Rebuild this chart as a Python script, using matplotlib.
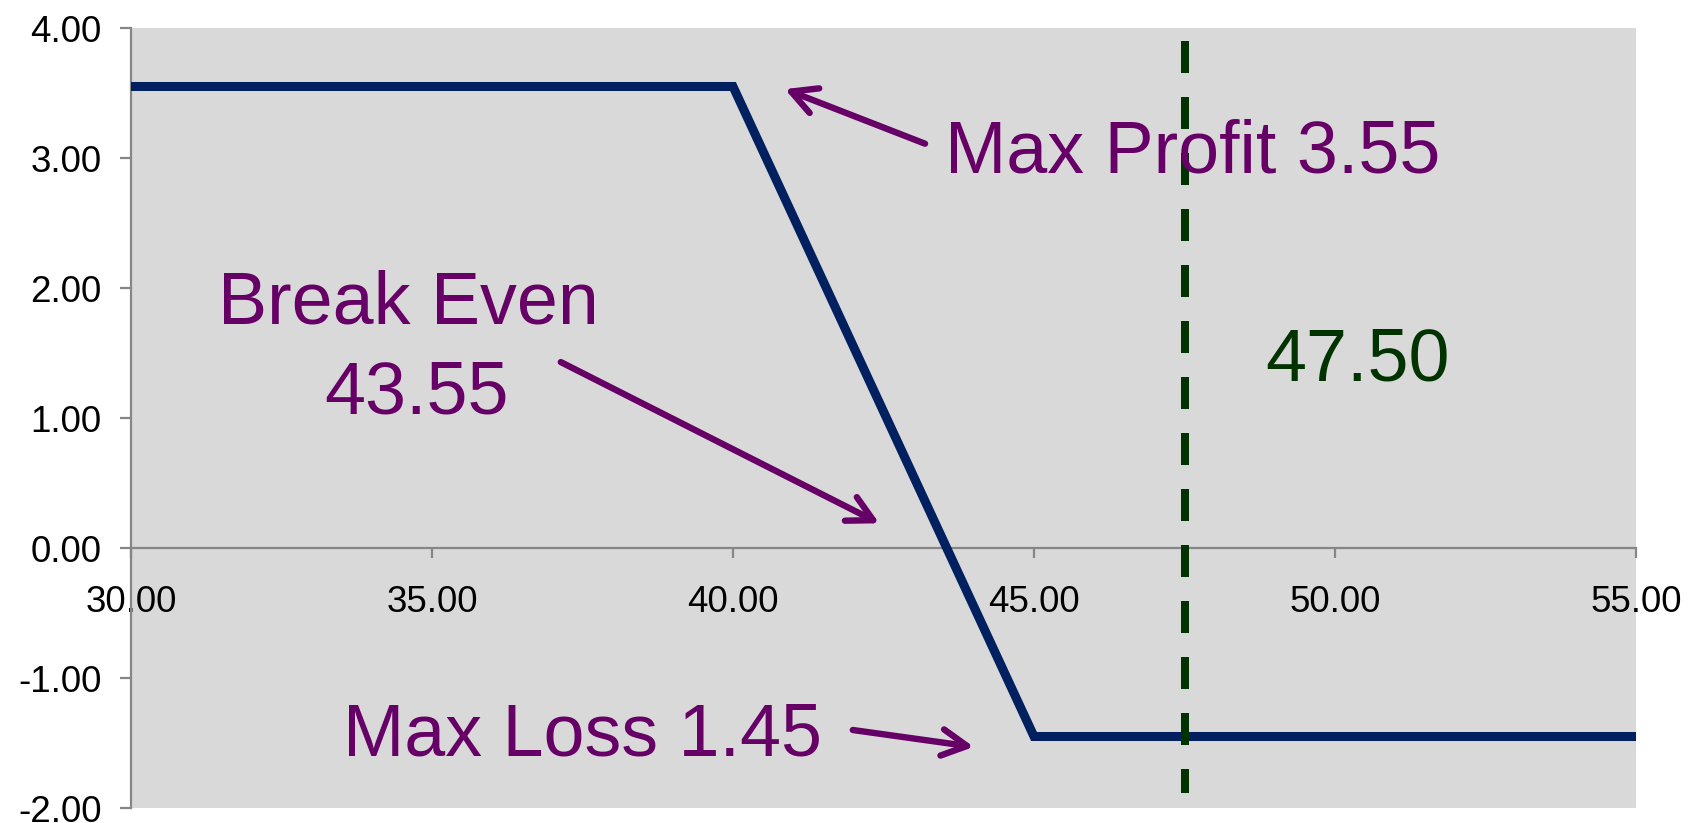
import matplotlib
matplotlib.use("Agg")
import matplotlib.pyplot as plt
from matplotlib.ticker import FormatStrFormatter

plt.rcParams['font.family'] = ['Liberation Sans', 'DejaVu Sans']

# Payoff of the spread at expiry
prices = [30.0, 40.0, 45.0, 55.0]
profit = [3.55, 3.55, -1.45, -1.45]

current_price = 47.50
dash_span = [3.9, -1.885]

max_profit = 3.55
max_loss = 1.45
break_even = 43.55

x_ticks = [30, 35, 40, 45, 50, 55]
y_ticks = [-2, -1, 0, 1, 2, 3, 4]

NAVY = '#002060'
PURPLE = '#660066'
GREEN = '#003300'
AXIS_GREY = '#868686'

fig = plt.figure(figsize=(16.93, 8.23), dpi=100)
ax = fig.add_axes([131 / 1693, 1 - 808 / 823, (1636 - 131) / 1693, (808 - 28) / 823])
ax.set_facecolor('#D9D9D9')

ax.set_xlim(30, 55)
ax.set_ylim(-2, 4)

# payoff line
ax.plot(prices, profit, color=NAVY, linewidth=6.5, solid_capstyle='butt',
        solid_joinstyle='miter', zorder=4, clip_on=False)

# current price marker
ax.plot([current_price, current_price], dash_span, color=GREEN, linewidth=5.76,
        linestyle=(0, (4.0, 3.0)), dash_capstyle='butt', zorder=5)

# spines and ticks
for side in ('top', 'right'):
    ax.spines[side].set_visible(False)
ax.spines['bottom'].set_position(('data', 0))
for side in ('left', 'bottom'):
    ax.spines[side].set_color(AXIS_GREY)
    ax.spines[side].set_linewidth(1.6)
    ax.spines[side].set_zorder(3)

ax.set_xticks(x_ticks)
ax.set_yticks(y_ticks)
ax.xaxis.set_major_formatter(FormatStrFormatter('%.2f'))
ax.yaxis.set_major_formatter(FormatStrFormatter('%.2f'))
ax.tick_params(axis='y', direction='out', length=8, width=1.6, color=AXIS_GREY,
               labelsize=26.5, pad=13, labelcolor='black')
ax.tick_params(axis='x', direction='out', length=7, width=1.6, color=AXIS_GREY,
               labelsize=26.5, pad=20, labelcolor='black')

arrow_kw = dict(arrowstyle='->,head_length=1.8,head_width=0.95', color=PURPLE,
                lw=4.6, shrinkA=0, shrinkB=0, capstyle='round', joinstyle='round')

# annotations
ax.annotate('', xy=(40.86, 3.53), xytext=(43.19, 3.11), arrowprops=arrow_kw, zorder=6)
ax.text(43.52, 2.892, f'Max Profit {max_profit:.2f}', fontsize=53, color=PURPLE,
        ha='left', va='baseline', zorder=6)

ax.annotate('', xy=(42.43, 0.19), xytext=(37.14, 1.43), arrowprops=arrow_kw, zorder=6)
ax.text(34.60, 1.728, 'Break Even', fontsize=53, color=PURPLE,
        ha='center', va='baseline', zorder=6)
ax.text(34.75, 1.038, f'{break_even:.2f}', fontsize=53, color=PURPLE,
        ha='center', va='baseline', zorder=6)

ax.annotate('', xy=(44.00, -1.53), xytext=(41.99, -1.40), arrowprops=arrow_kw, zorder=6)
ax.text(33.52, -1.60, f'Max Loss {max_loss:.2f}', fontsize=53, color=PURPLE,
        ha='left', va='baseline', zorder=6)

ax.text(48.84, 1.285, f'{current_price:.2f}', fontsize=53, color=GREEN,
        ha='left', va='baseline', zorder=6)

fig.savefig('out.png', dpi=100)
